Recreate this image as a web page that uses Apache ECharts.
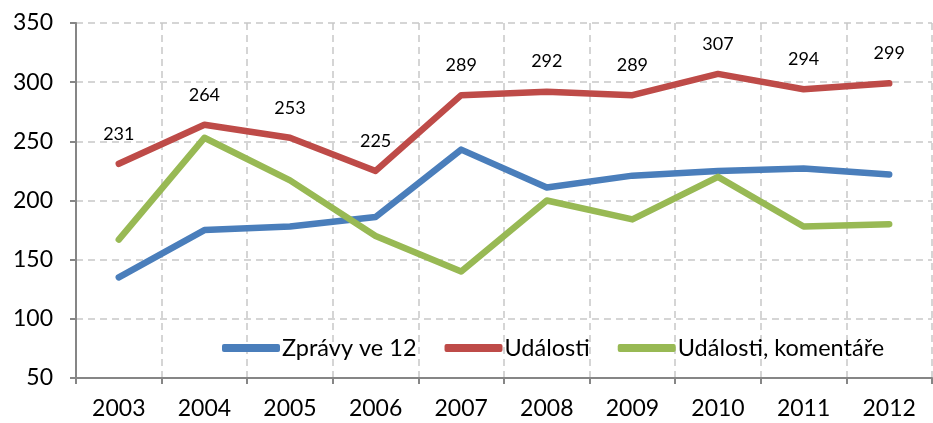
<!DOCTYPE html>
<html lang="cs">
<head>
    <meta charset="UTF-8">
    <title>Zprávy ve 12 / Události</title>
    <style>
        html, body { margin: 0; padding: 0; background: #fff; }
        #chart { width: 933px; height: 423px; }
    </style>
    <script src="https://cdn.jsdelivr.net/npm/echarts@6/dist/echarts.min.js"></script>
</head>
<body>
    <div id="chart"></div>
    <script>
        // data
        var years = ['2003', '2004', '2005', '2006', '2007', '2008', '2009', '2010', '2011', '2012'];
        var zpravy = [135, 175, 178, 186, 243, 211, 221, 225, 227, 222];
        var udalosti = [231, 264, 253, 225, 289, 292, 289, 307, 294, 299];
        var komentare = [167, 253, 217, 170, 140, 200, 184, 220, 178, 180];
        var seriesNames = ['Zprávy ve 12', 'Události', 'Události, komentáře'];
        var colors = ['#4a7ebb', '#be4b48', '#98b954'];

        var font = 'Lato, "Open Sans", sans-serif';
        var gridLine = { show: true, lineStyle: { color: '#c8c8c8', type: [7, 5], width: 1.5 } };
        var axisLine = { show: true, lineStyle: { color: '#868686', width: 2 } };

        function lineSeries(name, data, color, withLabels) {
            return {
                name: name,
                type: 'line',
                data: data,
                symbol: 'circle',
                symbolSize: 0.1,
                showSymbol: true,
                lineStyle: { width: 6.5, color: color, cap: 'round', join: 'round' },
                itemStyle: { color: color },
                label: {
                    show: withLabels,
                    position: 'top',
                    distance: 21,
                    color: '#000',
                    fontFamily: font,
                    fontSize: 18
                },
                z: 3
            };
        }

        var chart = echarts.init(document.getElementById('chart'));
        chart.setOption({
            animation: false,
            color: colors,
            grid: { left: 76, right: 1, top: 23, bottom: 45 },
            legend: {
                data: seriesNames,
                left: 217,
                top: 331,
                icon: 'roundRect',
                itemWidth: 58,
                itemHeight: 8,
                itemGap: 28,
                textStyle: { fontFamily: font, fontSize: 23.5, color: '#000', padding: [0, 0, 0, -3] }
            },
            xAxis: {
                type: 'category',
                data: years,
                boundaryGap: true,
                axisLine: axisLine,
                axisTick: { show: true, length: 6, lineStyle: { color: '#868686', width: 2 } },
                axisLabel: { fontFamily: font, fontSize: 23, color: '#000', margin: 19 },
                splitLine: gridLine
            },
            yAxis: {
                type: 'value',
                min: 50,
                max: 350,
                interval: 50,
                axisLine: axisLine,
                axisTick: { show: true, length: 6, inside: false, lineStyle: { color: '#868686', width: 2 } },
                axisLabel: { fontFamily: font, fontSize: 23, color: '#000', margin: 23 },
                splitLine: gridLine
            },
            series: [
                lineSeries(seriesNames[0], zpravy, colors[0], false),
                lineSeries(seriesNames[1], udalosti, colors[1], true),
                lineSeries(seriesNames[2], komentare, colors[2], false)
            ]
        });
    </script>
</body>
</html>
